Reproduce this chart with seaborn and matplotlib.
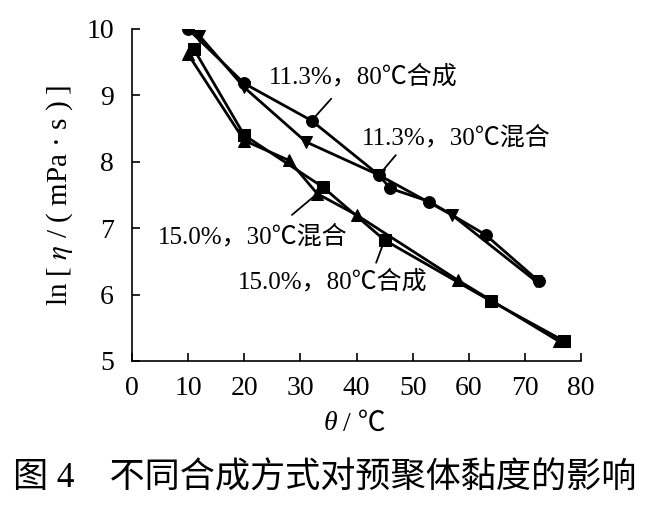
import matplotlib
matplotlib.use("Agg")
import matplotlib.pyplot as plt
import seaborn as sns
import pandas as pd

# ---- data ----
x_c80 = [10, 20, 32, 44, 46, 53, 63, 72.5]
y_c80 = [10.0, 9.18, 8.62, 7.80, 7.60, 7.40, 6.90, 6.20]

x_m30 = [12, 20, 31, 44, 57, 72]
y_m30 = [9.90, 9.12, 8.30, 7.80, 7.20, 6.20]

x_t30 = [10, 20, 28, 33, 40, 58, 76]
y_t30 = [9.62, 8.32, 8.02, 7.52, 7.20, 6.22, 5.30]

x_s80 = [11, 20, 34, 45, 64, 77]
y_s80 = [9.70, 8.40, 7.62, 6.82, 5.90, 5.30]

x_ticks = [0, 10, 20, 30, 40, 50, 60, 70, 80]
y_ticks = [5, 6, 7, 8, 9, 10]

labels = ["11.3%，80℃合成", "11.3%，30℃混合", "15.0%，30℃混合", "15.0%，80℃合成"]
caption = "图 4　不同合成方式对预聚体黏度的影响"

sns.set_theme(style="white")
plt.rcParams['font.family'] = ['Liberation Serif', 'Noto Sans CJK SC', 'DejaVu Sans']
plt.rcParams['mathtext.fontset'] = 'stix'

fig = plt.figure(figsize=(6.49, 5.16), dpi=100)
ax = fig.add_axes([132/649, 1-361/516, (581-132)/649, (361-29)/516])

series = [(x_c80, y_c80, 'o', labels[0]),
          (x_m30, y_m30, 'v', labels[1]),
          (x_t30, y_t30, '^', labels[2]),
          (x_s80, y_s80, 's', labels[3])]
for xs, ys, mk, lab in series:
    df = pd.DataFrame({'x': xs, 'y': ys})
    sns.lineplot(data=df, x='x', y='y', sort=False, color='black', lw=2,
                 marker=mk, markersize=8.5, markeredgecolor='black',
                 markerfacecolor='black', ax=ax, estimator=None)

ax.set_xlim(0, 80)
ax.set_ylim(5, 10)
ax.set_xticks(x_ticks)
ax.set_yticks(y_ticks)
ax.set_xticklabels([str(v) for v in x_ticks])
ax.set_yticklabels([str(v) for v in y_ticks])
ax.tick_params(direction='in', length=6, width=1.2, colors='black',
               labelsize=20, bottom=True, left=True)
ax.tick_params(axis='x', pad=11)
ax.tick_params(axis='y', pad=13)
for s in ['top', 'right']:
    ax.spines[s].set_visible(False)
for s in ['left', 'bottom']:
    ax.spines[s].set_color('black')
    ax.spines[s].set_linewidth(1.2)

ax.set_xlabel("")
ax.set_ylabel(r"ln [ $\eta$ / ( mPa · s ) ]", fontsize=21, labelpad=8, color='black')

# x label: italic theta + unit
fig.text(330/649, 1-424/516, "θ", fontsize=20, style='italic', ha='center',
         va='center', color='black', family='Liberation Serif')
fig.text(343/649, 1-424/516, "/ ℃", fontsize=20, ha='left', va='center',
         color='black')

# annotations (text position, leader line from data point)
ann = [
    (labels[0], (32, 8.62), (35.5, 8.95), (363, 77)),
    (labels[1], (44, 7.80), (47, 8.10), (456, 138)),
    (labels[2], (33, 7.52), (28.5, 7.20), (253, 237)),
    (labels[3], (45, 6.82), (43.5, 6.48), (333, 282)),
]
for text, p0, p1, tpos in ann:
    ax.plot([p0[0], p1[0]], [p0[1], p1[1]], color='black', lw=1.3)
    fig.text(tpos[0]/649, 1-tpos[1]/516, text, fontsize=18, ha='center',
             va='center', color='black')

fig.text(325/649, 1-479/516, caption, fontsize=25.3, ha='center', va='center',
         color='black')

ax.set_facecolor('white')
fig.patch.set_facecolor('white')
fig.savefig("out.png", dpi=100, facecolor='white')
